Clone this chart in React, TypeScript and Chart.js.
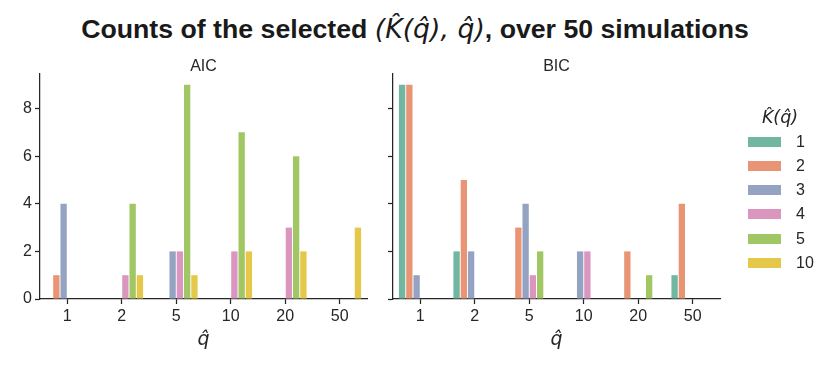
import React, { useEffect, useRef } from "react";
import { Chart, registerables } from "chart.js";
Chart.register(...registerables);

// ---- data ----
const qLabels = ["1", "2", "5", "10", "20", "50"];
const kLevels = ["1", "2", "3", "4", "5", "10"];
const kColors = ["#71b6a0", "#e99575", "#95a3c3", "#db96c0", "#a1c764", "#e5c849"];

// AIC counts: one array per K-hat level, indexed by q-hat category
const aicK1 = [0, 0, 0, 0, 0, 0];
const aicK2 = [1, 0, 0, 0, 0, 0];
const aicK3 = [4, 0, 2, 0, 0, 0];
const aicK4 = [0, 1, 2, 2, 3, 0];
const aicK5 = [0, 4, 9, 7, 6, 0];
const aicK10 = [0, 1, 1, 2, 2, 3];

// BIC counts
const bicK1 = [9, 2, 0, 0, 0, 1];
const bicK2 = [9, 5, 3, 0, 2, 4];
const bicK3 = [1, 2, 4, 2, 0, 0];
const bicK4 = [0, 0, 1, 2, 0, 0];
const bicK5 = [0, 0, 2, 0, 1, 0];
const bicK10 = [0, 0, 0, 0, 0, 0];

const yTickValues = [0, 2, 4, 6, 8];
const yMax = 9.45;

const aicSeries = [aicK1, aicK2, aicK3, aicK4, aicK5, aicK10];
const bicSeries = [bicK1, bicK2, bicK3, bicK4, bicK5, bicK10];

const INK = "#262626";
const SANS = "'Liberation Sans', Arial, Helvetica, sans-serif";
const MATH = "'DejaVu Sans', sans-serif";

function makeConfig(title: string, series: number[][], showYLabels: boolean, yWidth: number, padRight: number): any {
  return {
    type: "bar",
    data: {
      labels: qLabels,
      datasets: series.map((d, i) => ({
        label: kLevels[i],
        data: d,
        backgroundColor: kColors[i],
        borderWidth: 0,
        categoryPercentage: 0.8,
        barPercentage: 0.87,
        xAxisID: "x",
        yAxisID: "y",
      })),
    },
    options: {
      responsive: false,
      animation: false,
      devicePixelRatio: 1,
      layout: { padding: { left: 0, right: padRight, top: 0, bottom: 0 } },
      plugins: {
        legend: { display: false },
        tooltip: { enabled: false },
        title: { display: false },
      },
      scales: {
        x: {
          type: "category",
          position: "bottom",
          offset: true,
          grid: {
            display: true,
            drawOnChartArea: false,
            drawTicks: true,
            tickLength: 5,
            tickColor: INK,
            tickWidth: 1.25,
            offset: false,
          },
          border: { display: true, color: INK, width: 1.25 },
          ticks: {
            color: INK,
            font: { family: SANS, size: 16 },
            padding: 3,
            maxRotation: 0,
          },
          title: {
            display: true,
            text: "q\u0302",
            color: INK,
            font: { family: MATH, size: 19, style: "italic" },
            padding: { top: 0, bottom: 24 },
          },
          afterFit: (s: any) => {
            s.height = 76;
          },
        },
        xTop: {
          type: "category",
          position: "top",
          labels: qLabels,
          offset: true,
          grid: { display: false, drawTicks: false },
          border: { display: false },
          ticks: { display: false },
          title: {
            display: true,
            text: title,
            color: INK,
            font: { family: SANS, size: 16, lineHeight: 1.2 },
            padding: { top: 57, bottom: 0 },
          },
          afterFit: (s: any) => {
            s.height = 74;
          },
        },
        y: {
          type: "linear",
          min: 0,
          max: yMax,
          grid: {
            display: true,
            drawOnChartArea: false,
            drawTicks: true,
            tickLength: 5,
            tickColor: INK,
            tickWidth: 1.25,
          },
          border: { display: true, color: INK, width: 1.25 },
          afterBuildTicks: (s: any) => {
            s.ticks = yTickValues.map((v) => ({ value: v }));
          },
          ticks: {
            display: showYLabels,
            color: INK,
            font: { family: SANS, size: 16 },
            padding: 3,
            includeBounds: false,
          },
          afterFit: (s: any) => {
            s.width = yWidth;
          },
        },
      },
    },
  };
}

function Panel(props: { left: number; width: number; title: string; series: number[][]; showY: boolean; yWidth: number; padRight: number }) {
  const ref = useRef<HTMLCanvasElement | null>(null);
  useEffect(() => {
    if (!ref.current) return;
    const chart = new Chart(ref.current, makeConfig(props.title, props.series, props.showY, props.yWidth, props.padRight));
    return () => chart.destroy();
  }, []);
  return (
    <canvas
      ref={ref}
      width={props.width}
      height={375}
      style={{ position: "absolute", left: props.left, top: 0, width: props.width, height: 375 }}
    />
  );
}

export default function App() {
  const legendTop = 136.5;
  const rowStep = 24.3;
  return (
    <div style={{ position: "fixed", left: 0, top: 0, width: 830, height: 375, background: "#fff", overflow: "hidden" }}>
      <div
        style={{
          position: "absolute",
          left: 0,
          top: 13,
          width: 830,
          textAlign: "center",
          fontFamily: SANS,
          fontWeight: "bold",
          fontSize: 26.7,
          lineHeight: "32px",
          color: "#1a1a1a",
          whiteSpace: "nowrap",
        }}
      >
        Counts of the selected{" "}
        <span style={{ fontFamily: MATH, fontWeight: "normal", fontStyle: "italic" }}>(K&#770;(q&#770;), q&#770;)</span>, over 50
        simulations
      </div>
      <Panel left={0} width={380} title="AIC" series={aicSeries} showY={true} yWidth={40} padRight={13} />
      <Panel left={380} width={450} title="BIC" series={bicSeries} showY={false} yWidth={13} padRight={110} />
      <div style={{ position: "absolute", left: 740, width: 80, top: 105, textAlign: "center", fontFamily: MATH, fontStyle: "italic", fontSize: 17.5, lineHeight: "24px", color: INK }}>
        K&#770;(q&#770;)
      </div>
      {kLevels.map((k, i) => (
        <div key={k} style={{ position: "absolute", left: 748, top: legendTop + i * rowStep - 3, height: 16 }}>
          <div style={{ position: "absolute", left: 0, top: 3, width: 33, height: 10, background: kColors[i] }} />
          <div style={{ position: "absolute", left: 48, top: -2, fontFamily: SANS, fontSize: 16, lineHeight: "19px", color: INK, whiteSpace: "nowrap" }}>
            {k}
          </div>
        </div>
      ))}
    </div>
  );
}
